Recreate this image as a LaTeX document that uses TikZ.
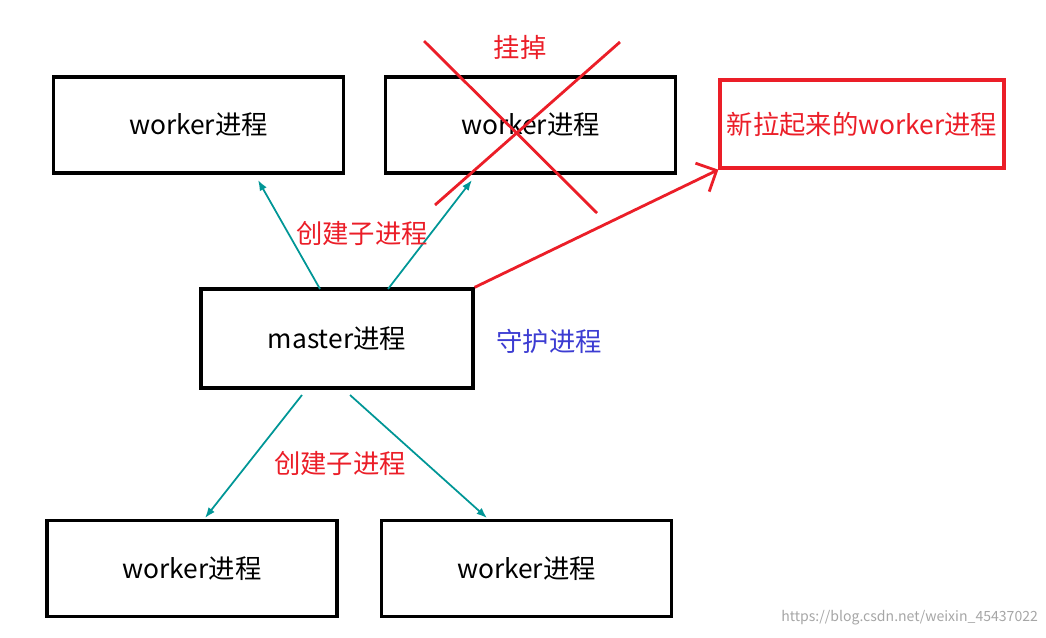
\documentclass[tikz,border=0pt]{standalone}
\usepackage{fontspec}
\setmainfont{Noto Sans CJK SC}
\usepackage{tikz}
\usetikzlibrary{arrows.meta}
\definecolor{tealarr}{RGB}{0,150,150}
\definecolor{redx}{RGB}{235,30,40}
\definecolor{bluetxt}{RGB}{60,60,210}

\begin{document}
\begin{tikzpicture}[
    x=0.02cm, y=-0.02cm,
    box/.style={rectangle, draw=black, line width=1.9pt, minimum width=5.8cm, minimum height=1.92cm, font=\fontsize{15}{18}\selectfont},
    spawn/.style={-{Latex[length=6pt]}, draw=tealarr, line width=1pt},
    lbl/.style={font=\fontsize{15}{18}\selectfont}
]
\useasboundingbox (0,0) rectangle (1046,637);

% processes
\node[box] (w1) at (198.5,125) {worker进程};
\node[box] (w2) at (530.5,125) {worker进程};
\node[box, draw=redx, text=redx, minimum width=5.68cm, minimum height=1.76cm] (wn) at (862,124) {新拉起来的worker进程};
\node[box, minimum width=5.44cm, minimum height=1.98cm] (m) at (337,338.5) {master进程};
\node[box] (w3) at (192,568.5) {worker进程};
\node[box] (w4) at (526.5,568.5) {worker进程};

% spawn arrows
\coordinate (m1) at (320,289);
\coordinate (m2) at (388,289);
\coordinate (m3) at (302,395);
\coordinate (m4) at (350,395);
\coordinate (t1) at (258,180);
\coordinate (t2) at (472,180);
\coordinate (t3) at (205,518);
\coordinate (t4) at (487,518);
\draw[spawn] (m1) -- (t1);
\draw[spawn] (m2) -- (t2);
\draw[spawn] (m3) -- (t3);
\draw[spawn] (m4) -- (t4);

% restart
\draw[-{Straight Barb[length=9pt]}, draw=redx, line width=1.6pt] (m.north east) -- (wn.south west);
\coordinate (xa) at (424,41);
\coordinate (xb) at (597,213);
\coordinate (xc) at (620,42);
\coordinate (xd) at (435,205);
\draw[redx, line width=1.6pt] (xa) -- (xb);
\draw[redx, line width=1.6pt] (xc) -- (xd);

% labels
\node[lbl, text=redx] (dead) at (520,47) {挂掉};
\node[lbl, text=redx] (c1) at (362,233) {创建子进程};
\node[lbl, text=bluetxt] (guard) at (549,341) {守护进程};
\node[lbl, text=redx] (c2) at (340,463) {创建子进程};
\node[text=gray!70, font=\fontsize{8}{10}\selectfont, anchor=east, inner sep=1pt] (wm) at (1040,618) {https://blog.csdn.net/weixin\_45437022};
\end{tikzpicture}
\end{document}
